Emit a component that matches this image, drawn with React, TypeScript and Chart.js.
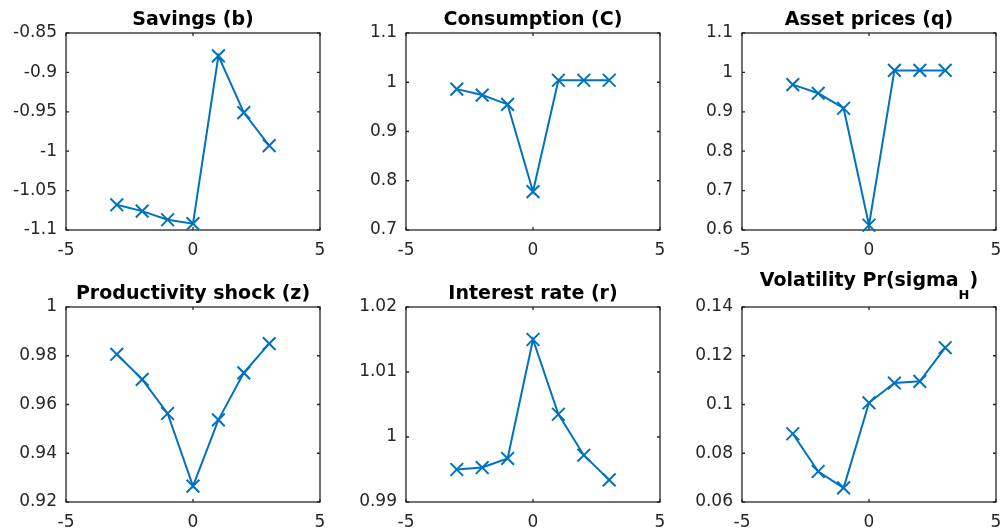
import React, { useEffect, useRef } from "react";
import { Chart, registerables } from "chart.js";

Chart.register(...registerables);

// ---- data ----
const periods = [-3, -2, -1, 0, 1, 2, 3];
const xTickValues = [-5, 0, 5];

const savings = [-1.068, -1.076, -1.087, -1.092, -0.879, -0.951, -0.993];
const consumption = [0.986, 0.974, 0.955, 0.778, 1.004, 1.004, 1.004];
const assetPrices = [0.969, 0.947, 0.909, 0.612, 1.005, 1.005, 1.005];
const productivity = [0.9806, 0.9703, 0.9563, 0.9265, 0.9537, 0.973, 0.985];
const interestRate = [0.995, 0.9953, 0.9967, 1.015, 1.0035, 0.9972, 0.9934];
const volatility = [0.088, 0.0725, 0.0658, 0.1007, 0.1088, 0.1095, 0.1233];

const savingsTicks = [-1.1, -1.05, -1, -0.95, -0.9, -0.85];
const consumptionTicks = [0.7, 0.8, 0.9, 1, 1.1];
const assetTicks = [0.6, 0.7, 0.8, 0.9, 1, 1.1];
const productivityTicks = [0.92, 0.94, 0.96, 0.98, 1];
const interestTicks = [0.99, 1, 1.01, 1.02];
const volatilityTicks = [0.06, 0.08, 0.1, 0.12, 0.14];

type Panel = {
  title: string;
  sub?: string;
  tail?: string;
  values: number[];
  ticks: number[];
};

const panels: Panel[] = [
  { title: "Savings (b)", values: savings, ticks: savingsTicks },
  { title: "Consumption (C)", values: consumption, ticks: consumptionTicks },
  { title: "Asset prices (q)", values: assetPrices, ticks: assetTicks },
  { title: "Productivity shock (z)", values: productivity, ticks: productivityTicks },
  { title: "Interest rate (r)", values: interestRate, ticks: interestTicks },
  { title: "Volatility Pr(sigma", sub: "H", tail: ")", values: volatility, ticks: volatilityTicks },
];

// ---- layout ----
const COL_LEFT = [66, 406, 742];
const PLOT_W = 257;
const ROW_TOP = [33, 307];
const ROW_H = [197, 195];
const Y_W = 62;
const RIGHT_PAD = 8;
const TOP_PAD = [33, 45];
const X_H = [30, 29];

const LINE_COLOR = "#0072BD";
const AXIS_COLOR = "#262626";
const FONT = "DejaVu Sans";

const fmt = (v: number) => String(Number(v.toFixed(4)));

const boxPlugin = {
  id: "matlabBox",
  beforeDatasetsDraw(chart: any) {
    const { ctx, chartArea: a, scales } = chart;
    ctx.save();
    ctx.strokeStyle = AXIS_COLOR;
    ctx.lineWidth = 1.3;
    ctx.strokeRect(a.left, a.top, a.right - a.left, a.bottom - a.top);
    const len = 3;
    ctx.beginPath();
    for (const t of scales.x.ticks) {
      const px = scales.x.getPixelForValue(t.value);
      ctx.moveTo(px, a.bottom);
      ctx.lineTo(px, a.bottom - len);
      ctx.moveTo(px, a.top);
      ctx.lineTo(px, a.top + len);
    }
    for (const t of scales.y.ticks) {
      const py = scales.y.getPixelForValue(t.value);
      ctx.moveTo(a.left, py);
      ctx.lineTo(a.left + len, py);
      ctx.moveTo(a.right, py);
      ctx.lineTo(a.right - len, py);
    }
    ctx.stroke();
    ctx.restore();
  },
};

const titlePlugin = {
  id: "panelTitle",
  afterDraw(chart: any, _args: any, opts: any) {
    const { ctx, chartArea: a } = chart;
    const mainFont = `bold 19px "${FONT}"`;
    const subFont = `bold 13px "${FONT}"`;
    ctx.save();
    ctx.fillStyle = "#000";
    ctx.textBaseline = "alphabetic";
    ctx.textAlign = "left";
    ctx.font = mainFont;
    const w1 = ctx.measureText(opts.text).width;
    let w2 = 0;
    let w3 = 0;
    if (opts.sub) {
      ctx.font = subFont;
      w2 = ctx.measureText(opts.sub).width;
      ctx.font = mainFont;
      w3 = ctx.measureText(opts.tail || "").width;
    }
    const total = w1 + w2 + w3;
    let x = (a.left + a.right) / 2 - total / 2;
    const y = a.top - (opts.sub ? 21 : 8);
    ctx.font = mainFont;
    ctx.fillText(opts.text, x, y);
    x += w1;
    if (opts.sub) {
      ctx.font = subFont;
      ctx.fillText(opts.sub, x, y + 13);
      x += w2;
      ctx.font = mainFont;
      ctx.fillText(opts.tail || "", x, y);
    }
    ctx.restore();
  },
};

function PanelChart({ panel, col, row }: { panel: Panel; col: number; row: number }) {
  const ref = useRef<HTMLCanvasElement | null>(null);
  const left = COL_LEFT[col] - Y_W;
  const top = ROW_TOP[row] - TOP_PAD[row];
  const width = Y_W + PLOT_W + RIGHT_PAD;
  const height = TOP_PAD[row] + ROW_H[row] + X_H[row];

  useEffect(() => {
    if (!ref.current) return;
    const yMin = panel.ticks[0];
    const yMax = panel.ticks[panel.ticks.length - 1];
    const step = panel.ticks[1] - panel.ticks[0];
    const chart = new Chart(ref.current, {
      type: "line",
      data: {
        datasets: [
          {
            data: periods.map((p, i) => ({ x: p, y: panel.values[i] })),
            borderColor: LINE_COLOR,
            backgroundColor: LINE_COLOR,
            borderWidth: 2,
            pointStyle: "crossRot",
            pointRadius: 9,
            pointBorderWidth: 2,
            pointBorderColor: LINE_COLOR,
            tension: 0,
            fill: false,
            clip: false as any,
          },
        ],
      },
      plugins: [boxPlugin, titlePlugin],
      options: {
        animation: false,
        responsive: false,
        maintainAspectRatio: false,
        layout: { padding: { top: TOP_PAD[row], right: RIGHT_PAD, left: 0, bottom: 0 } },
        plugins: {
          legend: { display: false },
          tooltip: { enabled: false },
          title: { display: false },
          panelTitle: { text: panel.title, sub: panel.sub, tail: panel.tail },
        } as any,
        scales: {
          x: {
            type: "linear",
            min: -5,
            max: 5,
            grid: { display: false, drawTicks: false },
            border: { display: false },
            afterBuildTicks: (s: any) => {
              s.ticks = xTickValues.map((v) => ({ value: v }));
            },
            afterFit: (s: any) => {
              s.height = X_H[row];
              s.paddingLeft = 0;
              s.paddingRight = 0;
            },
            ticks: {
              padding: 10,
              color: AXIS_COLOR,
              font: { family: FONT, size: 17 },
              maxRotation: 0,
              callback: (v: any) => fmt(Number(v)),
            },
          },
          y: {
            type: "linear",
            min: yMin,
            max: yMax,
            grid: { display: false, drawTicks: false },
            border: { display: false },
            afterBuildTicks: (s: any) => {
              s.ticks = panel.ticks.map((v) => ({ value: v }));
            },
            afterFit: (s: any) => {
              s.width = Y_W;
              s.paddingTop = 0;
              s.paddingBottom = 0;
            },
            ticks: {
              stepSize: step,
              padding: 9,
              color: AXIS_COLOR,
              font: { family: FONT, size: 17 },
              callback: (v: any) => fmt(Number(v)),
            },
          },
        },
      },
    });
    return () => chart.destroy();
  }, [panel, row]);

  return (
    <div style={{ position: "absolute", left, top, width, height }}>
      <canvas ref={ref} width={width} height={height} style={{ width, height, display: "block" }} />
    </div>
  );
}

export default function App() {
  return (
    <div
      style={{
        position: "absolute",
        left: 0,
        top: 0,
        width: 1008,
        height: 531,
        overflow: "hidden",
        background: "#fff",
      }}
    >
      {panels.map((p, i) => (
        <PanelChart key={i} panel={p} col={i % 3} row={Math.floor(i / 3)} />
      ))}
    </div>
  );
}
